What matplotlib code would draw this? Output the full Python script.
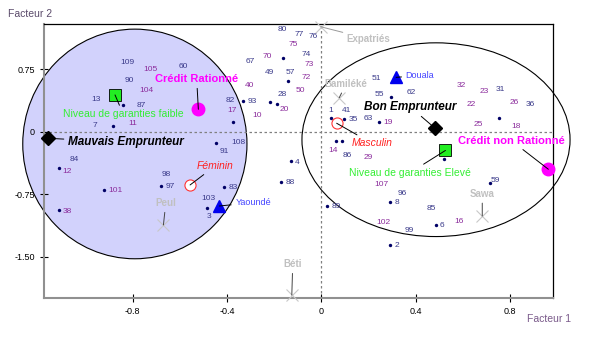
import matplotlib.pyplot as plt
from matplotlib.patches import Ellipse

plt.rcParams['font.family'] = ['Liberation Sans', 'DejaVu Sans']

# observation numbers (label positions on the factor plane)
obs_labels = ['109', '90', '13', '104', '105', '60', '87', '7', '11', '82', '93', '17',
              '40', '67', '10', '108', '91', '4', '88', '83', '103', '3', '89', '84',
              '12', '98', '97', '101', '38', '80', '77', '76', '75', '74', '70', '73',
              '49', '57', '72', '50', '28', '20', '51', '55', '62', '32', '22', '23',
              '31', '26', '36', '1', '41', '35', '63', '19', '14', '86', '29', '25',
              '18', '59', '107', '96', '8', '85', '102', '6', '16', '99', '2']
obs_x = [-0.820, -0.814, -0.956, -0.740, -0.722, -0.585, -0.761, -0.959, -0.797, -0.387,
         -0.291, -0.380, -0.306, -0.302, -0.271, -0.352, -0.411, -0.102, -0.133, -0.373,
         -0.479, -0.475, 0.062, -1.048, -1.079, -0.659, -0.641, -0.874, -1.075, -0.164,
         -0.094, -0.036, -0.119, -0.062, -0.229, -0.051, -0.220, -0.130, -0.066, -0.090,
         -0.165, -0.157, 0.232, 0.246, 0.383, 0.595, 0.637, 0.689, 0.760, 0.817, 0.884,
         0.040, 0.108, 0.136, 0.199, 0.284, 0.048, 0.112, 0.199, 0.665, 0.824, 0.736,
         0.253, 0.341, 0.319, 0.468, 0.263, 0.513, 0.585, 0.372, 0.319]
obs_y = [0.831, 0.607, 0.380, 0.491, 0.745, 0.778, 0.311, 0.068, 0.092, 0.368, 0.359,
         0.248, 0.553, 0.838, 0.188, -0.127, -0.240, -0.366, -0.606, -0.671, -0.798,
         -1.010, -0.893, -0.339, -0.471, -0.507, -0.659, -0.710, -0.958, 1.218, 1.158,
         1.138, 1.038, 0.927, 0.898, 0.799, 0.711, 0.711, 0.651, 0.491, 0.448, 0.268,
         0.631, 0.440, 0.467, 0.547, 0.328, 0.479, 0.508, 0.352, 0.328, 0.251, 0.251,
         0.140, 0.160, 0.113, -0.231, -0.287, -0.307, 0.089, 0.060, -0.587, -0.638,
         -0.746, -0.850, -0.917, -1.085, -1.129, -1.078, -1.189, -1.369]
purple = {'104', '105', '11', '17', '40', '10', '12', '101', '38', '75', '70', '73', '72',
          '50', '20', '32', '22', '19', '14', '29', '23', '26', '25', '18', '107', '102', '16'}

# visible observation dots
dots_x = [-0.842, -0.881, -0.333, -0.373, -0.447, -0.130, -0.172, -0.411, -0.486, 0.023,
          -1.111, -0.681, -0.919, -1.111, -0.161, -0.140, -0.217, -0.189, 0.041, 0.097,
          0.246, 0.061, 0.089, 0.521, 0.754, 0.291, 0.485, 0.291, 0.295, 0.715]
dots_y = [0.323, 0.072, 0.368, 0.110, -0.139, -0.351, -0.599, -0.659, -0.917, -0.886,
          -0.431, -0.647, -0.698, -0.938, 0.886, 0.607, 0.352, 0.332, 0.168, 0.152,
          0.120, -0.108, -0.115, -0.331, 0.160, -0.846, -1.117, -1.357, 0.410, -0.610]

# supplementary modalities (ethnic group)
sup_names = ['Expatriés', 'Bamiléké', 'Peul', 'Sawa', 'Béti']
sup_x = [-0.003, 0.076, -0.669, 0.682, -0.125]
sup_y = [1.257, 0.407, -1.117, -1.010, -1.956]
sup_lx = [0.201, 0.105, -0.659, 0.682, -0.121]
sup_ly = [1.110, 0.571, -0.857, -0.746, -1.588]

# active modalities
guarantee_names = ['Niveau de garanties faible', 'Niveau de garanties Elevé']
guarantee_x = [-0.874, 0.526]
guarantee_y = [0.440, -0.225]
guarantee_lx = [-0.839, 0.376]
guarantee_ly = [0.208, -0.491]

credit_names = ['Crédit Rationné', 'Crédit non Rationné']
credit_x = [-0.521, 0.962]
credit_y = [0.268, -0.450]
credit_lx = [-0.528, 0.807]
credit_ly = [0.628, -0.111]

borrower_names = ['Mauvais Emprunteur', 'Bon Emprunteur']
borrower_x = [-1.159, 0.482]
borrower_y = [-0.079, 0.041]
borrower_lx = [-0.828, 0.376]
borrower_ly = [-0.127, 0.299]

sex_names = ['Féminin', 'Masculin']
sex_x = [-0.556, 0.065]
sex_y = [-0.638, 0.101]
sex_lx = [-0.450, 0.214]
sex_ly = [-0.411, -0.139]

city_names = ['Douala', 'Yaoundé']
city_x = [0.317, -0.432]
city_y = [0.651, -0.890]
city_lx = [0.418, -0.289]
city_ly = [0.671, -0.850]

fig = plt.figure(figsize=(5.97, 3.53), dpi=100)
ax = fig.add_axes([0.0737, 0.1567, 0.8531, 0.7745])
ax.set_xlim(-1.175, 0.983)
ax.set_ylim(-1.988, 1.286)

# cluster envelopes
ax.add_patch(Ellipse((-0.79, -0.147), 0.95, 2.75, facecolor='#d2d2fc', edgecolor='black',
                     lw=0.8, clip_on=False, zorder=0))
ax.add_patch(Ellipse((0.486, -0.096), 1.136, 2.32, facecolor='none', edgecolor='black',
                     lw=0.8, clip_on=False, zorder=1))

ax.axhline(0, color='#808080', ls=(0, (2, 2)), lw=0.9, zorder=1)
ax.axvline(0, color='#808080', ls=(0, (2, 2)), lw=0.9, zorder=1)

ax.scatter(dots_x, dots_y, s=6, color='#000066', zorder=3, linewidths=0)
for t, x, y in zip(obs_labels, obs_x, obs_y):
    ax.text(x, y, t, fontsize=6, ha='center', va='center', zorder=4,
            color='#8b2c9c' if t in purple else '#3a3a8a')

line = dict(arrowstyle='-', color='black', lw=0.7, shrinkA=1, shrinkB=0)

for n, x, y, lx, ly in zip(sup_names, sup_x, sup_y, sup_lx, sup_ly):
    ax.plot(x, y, marker='x', color='#c8c8c8', ms=8, mew=0.8, zorder=3, clip_on=False)
    ax.annotate(n, (x, y), (lx, ly), fontsize=7, fontweight='bold', color='#c0c0c0',
                ha='center', va='center', zorder=4,
                arrowprops=dict(line, color='#444444' if n != 'Expatriés' else '#999999'))

for n, x, y, lx, ly in zip(guarantee_names, guarantee_x, guarantee_y, guarantee_lx, guarantee_ly):
    ax.plot(x, y, marker='s', color='#22ee22', mec='black', mew=0.6, ms=8, zorder=5)
    ax.annotate(n, (x, y), (lx, ly), fontsize=7.5, color='#33ee33', ha='center',
                va='center', zorder=5, arrowprops=line)

for n, x, y, lx, ly in zip(credit_names, credit_x, credit_y, credit_lx, credit_ly):
    ax.plot(x, y, marker='o', color='#ff00ff', ms=9, zorder=5, clip_on=False)
    ax.annotate(n, (x, y), (lx, ly), fontsize=8, fontweight='bold', color='#ff00ff',
                ha='center', va='center', zorder=5, arrowprops=line)

for n, x, y, lx, ly in zip(borrower_names, borrower_x, borrower_y, borrower_lx, borrower_ly):
    ax.plot(x, y, marker='D', color='black', ms=7, zorder=5, clip_on=False)
    ax.annotate(n, (x, y), (lx, ly), fontsize=8.5, fontweight='bold', fontstyle='italic',
                color='black', ha='center', va='center', zorder=5, arrowprops=line)

for n, x, y, lx, ly in zip(sex_names, sex_x, sex_y, sex_lx, sex_ly):
    ax.plot(x, y, marker='o', mfc='white', mec='#ff3333', ms=8, mew=0.8, zorder=5)
    ax.annotate(n, (x, y), (lx, ly), fontsize=7.5, fontstyle='italic', color='#ff2020',
                ha='center', va='center', zorder=5, arrowprops=line)

for n, x, y, lx, ly in zip(city_names, city_x, city_y, city_lx, city_ly):
    ax.plot(x, y, marker='^', color='#0000ee', ms=9, zorder=5)
    ax.annotate(n, (x, y), (lx, ly), fontsize=6.5, color='#4444ff', ha='center',
                va='center', zorder=5, arrowprops=line)

ax.set_xticks([-0.8, -0.4, 0, 0.4, 0.8])
ax.set_xticklabels(['-0.8', '-0.4', '0', '0.4', '0.8'])
ax.set_yticks([0.75, 0, -0.75, -1.5])
ax.set_yticklabels(['0.75', '0', '-0.75', '-1.50'])
ax.tick_params(direction='inout', length=6, width=0.8, labelsize=6.5, colors='black')
for s in ['left', 'bottom']:
    ax.spines[s].set_color('#909090')
    ax.spines[s].set_linewidth(1.5)
for s in ['top', 'right']:
    ax.spines[s].set_color('black')
    ax.spines[s].set_linewidth(0.9)

fig.text(8 / 597, 1 - 14 / 353, 'Facteur 2', fontsize=7.5, color='#5a4a6a', va='center')
fig.text(549 / 597, 1 - 319 / 353, 'Facteur 1', fontsize=7.5, color='#7a5a8a',
         va='center', ha='center')

fig.savefig('out.png', dpi=100)
